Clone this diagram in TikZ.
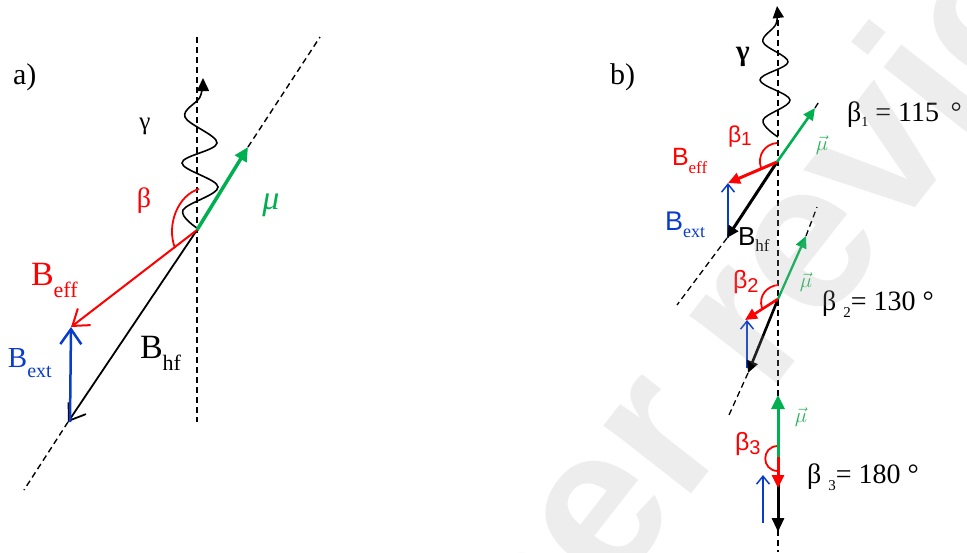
\documentclass[tikz,border=0pt]{standalone}
\usepackage{fontspec}
\setmainfont{Liberation Serif}
\newfontfamily\arialf{Liberation Sans}
\usetikzlibrary{arrows.meta}
\definecolor{mygreen}{RGB}{0,176,80}
\definecolor{mulab}{RGB}{40,180,90}
\definecolor{myred}{RGB}{255,0,0}
\definecolor{myblue}{RGB}{10,60,204}
\newcommand{\fs}[1]{\fontsize{#1}{#1}\selectfont}
\begin{document}
\begin{tikzpicture}[x=1pt,y=-1pt,
  every node/.style={inner sep=0pt,outer sep=0pt},
  dashline/.style={dash pattern=on 6pt off 4pt,line width=1.4pt},
  lbl/.style={anchor=base west},
  barbA/.style={-{Straight Barb[length=15pt,width=21pt]}},
  barbB/.style={-{Straight Barb[length=8pt,width=13pt]}},
  triB/.style={-{Triangle[length=12pt,width=11pt]}},
  wave/.style={line width=1.6pt},
  angarc/.style={myred,line width=1.8pt}]
\useasboundingbox (0,0) rectangle (967,552);

% ---------------- panel a ----------------
\coordinate (Ca) at (197,230);
\coordinate (mua) at (248,147);
\coordinate (hfa) at (68,422);
\coordinate (effa) at (71,327);
\coordinate (exta) at (70,422);
\coordinate (dta) at (320,37);
\coordinate (dba) at (24,490);
\coordinate (vta) at (197,37);
\coordinate (vba) at (197,422);

\draw[dashline] (vta) -- (vba);
\draw[dashline] (mua) -- (dta);
\draw[dashline] (hfa) -- (dba);

\draw[wave,-{Triangle[length=13pt,width=12pt]}] plot[smooth,tension=0.6] coordinates
 {(197,228) (183,210) (218,187) (182,163) (217,143) (185,117) (200,97) (203,78)};

\draw[angarc] (199,189) .. controls (178,195) and (166,225) .. (175,248);

\draw[line width=1.8pt,barbA] (Ca) -- (hfa);
\draw[myred,line width=2pt,barbA] (Ca) -- (effa);
\draw[myblue,line width=2.5pt,barbA] (exta) -- (effa);
\draw[mygreen,line width=3.5pt,-{Triangle[length=14pt,width=13pt]}] (Ca) -- (mua);

\node[lbl] (la) at (13,84) {\fs{30}a)};
\node (ga) at (145,126) {\fs{25}γ};
\node[myred] (betaa) at (144,201) {\fs{28}β};
\node[mygreen] (mula) at (271,205) {\fs{34}\itshape μ};
\node[lbl,myred] (beffa) at (31,285) {\fs{34}B\raisebox{-12pt}{\fs{22}eff}};
\node[lbl,myblue] (bexta) at (8,367) {\fs{29}B\raisebox{-10pt}{\fs{20}ext}};
\node[lbl] (bhfa) at (140,358) {\fs{34}B\raisebox{-12pt}{\fs{22}hf}};

% ---------------- panel b ----------------
\coordinate (vtb) at (778,20);
\coordinate (vbb) at (778,552);
\draw[dashline,line width=1.3pt] (vtb) -- (vbb);

\draw[wave,line width=1.5pt,-{Triangle[length=12pt,width=11pt]}] plot[smooth,tension=0.6] coordinates
 {(778,137) (763,120) (790,100) (760,80) (788,62) (763,42) (776,24) (777,6)};

% sub 1
\coordinate (C1) at (777,162);
\coordinate (mu1) at (815,108);
\coordinate (eff1) at (728,183);
\coordinate (hf1) at (727,238);
\coordinate (ext1) at (728,238);
\coordinate (d1t) at (820,100);
\coordinate (d1b) at (677,305);
\draw[dashline,line width=1.3pt] (mu1) -- (d1t);
\draw[dashline,line width=1.3pt] (hf1) -- (d1b);
\draw[angarc] (777,143) .. controls (765,144) and (757,155) .. (761,168);
\draw[myblue,line width=1.5pt,barbB] (ext1) -- (eff1);
\draw[line width=3pt,triB] (C1) -- (hf1);
\draw[myred,line width=3pt,triB] (C1) -- (eff1);
\draw[mygreen,line width=2.6pt,triB] (C1) -- (mu1);

% sub 2
\coordinate (C2) at (778,299);
\coordinate (mu2) at (806,236);
\coordinate (eff2) at (745,320);
\coordinate (hf2) at (748,373);
\coordinate (ext2) at (747,368);
\coordinate (ext2t) at (747,320);
\coordinate (d2t) at (817,207);
\coordinate (d2b) at (729,415);
\draw[dashline,line width=1.3pt] (mu2) -- (d2t);
\draw[dashline,line width=1.3pt] (hf2) -- (d2b);
\draw[angarc] (778,285) .. controls (767,286) and (758,296) .. (762,308);
\draw[myblue,line width=1.5pt,barbB] (ext2) -- (ext2t);
\draw[line width=2.6pt,triB] (C2) -- (hf2);
\draw[myred,line width=2.6pt,triB] (C2) -- (eff2);
\draw[mygreen,line width=2.3pt,triB] (C2) -- (mu2);

% sub 3
\coordinate (C3) at (778,457);
\coordinate (mu3) at (778,395);
\coordinate (eff3) at (778,488);
\coordinate (hf3) at (778,532);
\coordinate (ext3) at (763,523);
\coordinate (ext3t) at (763,475);
\draw[angarc] (778,446) .. controls (761,446) and (761,471) .. (778,471);
\draw[myblue,line width=1.5pt,barbB] (ext3) -- (ext3t);
\draw[line width=3pt,-{Triangle[length=14pt,width=12pt]}] (C3) -- (hf3);
\draw[myred,line width=3pt,-{Triangle[length=13pt,width=12pt]}] (C3) -- (eff3);
\draw[mygreen,line width=3pt,-{Triangle[length=14pt,width=13pt]}] (C3) -- (mu3);

% labels b
\node[lbl] (lb) at (610,84) {\fs{30}b)};
\node (gb) at (743,57) {\fs{29}\bfseries γ};
\node[lbl,myred] (beta1) at (728,142) {\arialf\fs{23}β\raisebox{-3pt}{\fs{19}1}};
\node[lbl,myred] (beff1) at (672,165) {\arialf\fs{25}B\raisebox{-8pt}{\rmfamily\fs{17}eff}};
\node[lbl,myblue] (bext1) at (665,230) {\arialf\fs{27}B\raisebox{-7pt}{\rmfamily\fs{18}ext}};
\node[lbl] (bhf1) at (738,245) {\arialf\fs{26}B\raisebox{-6pt}{\rmfamily\fs{17}hf}};
\node[mulab] (mul1) at (822,145) {\fs{22}$\vec{\mu}$};
\node[lbl,myred] (beta2) at (733,288) {\arialf\fs{25}β\raisebox{-4pt}{\fs{20}2}};
\node[mulab] (mul2) at (806,282) {\fs{22}$\vec{\mu}$};
\node[lbl,myred] (beta3) at (735,450) {\arialf\fs{25}β\raisebox{-4pt}{\fs{20}3}};
\node[mulab] (mul3) at (801,417) {\fs{22}$\vec{\mu}$};

\node[lbl] (t1) at (847,121) {\fs{28}β\raisebox{-5pt}{\fs{14}1} = 115\, °};
\node[lbl] (t2) at (822,310) {\fs{28}β \raisebox{-7pt}{\fs{15}2}= 130 °};
\node[lbl] (t3) at (807,483) {\fs{28}β \raisebox{-7pt}{\fs{15}3}= 180 °};

% watermark
\node[rotate=52,anchor=base,text=black!35,text opacity=0.2] (wm) at (812,340)
  {\arialf\bfseries\fs{210}Peer review};
\end{tikzpicture}
\end{document}
